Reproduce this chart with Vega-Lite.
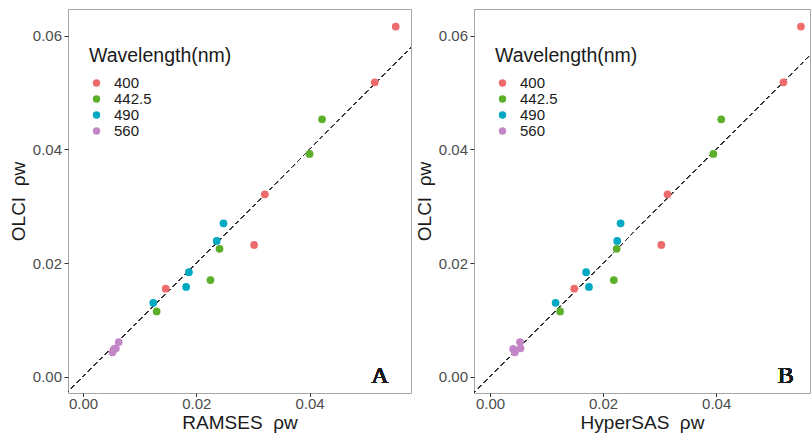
{
  "$schema": "https://vega.github.io/schema/vega-lite/v6.json",
  "padding": {"left": 8, "top": 8, "right": 0, "bottom": 0},
  "background": "white",
  "spacing": 2,
  "data": {"values": [
    {"wavelength": "400", "olci": 0.0616, "ramses": 0.0552, "hypersas": 0.0550},
    {"wavelength": "400", "olci": 0.0518, "ramses": 0.0515, "hypersas": 0.0519},
    {"wavelength": "400", "olci": 0.0321, "ramses": 0.0321, "hypersas": 0.0314},
    {"wavelength": "400", "olci": 0.0232, "ramses": 0.0302, "hypersas": 0.0303},
    {"wavelength": "400", "olci": 0.0155, "ramses": 0.0146, "hypersas": 0.0149},
    {"wavelength": "442.5", "olci": 0.0453, "ramses": 0.0422, "hypersas": 0.0409},
    {"wavelength": "442.5", "olci": 0.0392, "ramses": 0.0400, "hypersas": 0.0395},
    {"wavelength": "442.5", "olci": 0.0225, "ramses": 0.0241, "hypersas": 0.0224},
    {"wavelength": "442.5", "olci": 0.0170, "ramses": 0.0225, "hypersas": 0.0219},
    {"wavelength": "442.5", "olci": 0.0115, "ramses": 0.0130, "hypersas": 0.0124},
    {"wavelength": "490", "olci": 0.0270, "ramses": 0.0248, "hypersas": 0.0231},
    {"wavelength": "490", "olci": 0.0239, "ramses": 0.0236, "hypersas": 0.0225},
    {"wavelength": "490", "olci": 0.0184, "ramses": 0.0187, "hypersas": 0.0170},
    {"wavelength": "490", "olci": 0.0158, "ramses": 0.0182, "hypersas": 0.0175},
    {"wavelength": "490", "olci": 0.0130, "ramses": 0.0124, "hypersas": 0.0116},
    {"wavelength": "560", "olci": 0.0061, "ramses": 0.0063, "hypersas": 0.0053},
    {"wavelength": "560", "olci": 0.0050, "ramses": 0.0058, "hypersas": 0.0054},
    {"wavelength": "560", "olci": 0.0049, "ramses": 0.0055, "hypersas": 0.0041},
    {"wavelength": "560", "olci": 0.0043, "ramses": 0.0052, "hypersas": 0.0044}
  ]},
  "config": {
    "font": "Liberation Sans",
    "view": {"stroke": "#a6a6a6", "strokeWidth": 1},
    "axis": {
      "domain": false,
      "tickSize": 4,
      "tickColor": "#333333",
      "labelColor": "#4d4d4d",
      "labelFontSize": 15,
      "labelPadding": 2.5,
      "titleFontSize": 19,
      "titleFontWeight": "normal",
      "titleColor": "#1a1a1a",
      "gridColor": "#ebebeb"
    },
    "axisX": {"titlePadding": 2, "labelPadding": 0, "tickSize": 3.5},
    "axisY": {"titlePadding": 4},
    "legend": {
      "titleFontSize": 19.5,
      "titleFontWeight": "normal",
      "titleColor": "#1a1a1a",
      "labelFontSize": 15,
      "labelColor": "#1a1a1a",
      "symbolSize": 55,
      "symbolType": "circle",
      "rowPadding": 0,
      "labelOffset": 10,
      "titlePadding": 9
    }
  },
  "hconcat": [
    {
      "width": 343,
      "height": 384,
      "layer": [
        {
          "mark": {"type": "rule", "strokeDash": [4, 4], "color": "#333333", "strokeWidth": 1, "clip": true},
          "encoding": {
            "x": {"datum": -0.01, "type": "quantitative"},
            "y": {"datum": -0.01, "type": "quantitative"},
            "x2": {"datum": 0.08},
            "y2": {"datum": 0.08}
          }
        },
        {
          "mark": {"type": "point", "filled": true, "opacity": 1, "size": 60},
          "encoding": {
            "x": {
              "field": "ramses", "type": "quantitative",
              "scale": {"domain": [-0.00265, 0.0579], "nice": false, "zero": false},
              "axis": {
                "title": "RAMSES\u00a0 ρw",
                "values": [0, 0.01, 0.02, 0.03, 0.04, 0.05],
                "labelExpr": "round(datum.value*100) % 2 == 1 ? '' : format(datum.value, '.2f')",
                "tickOpacity": {"condition": {"test": "round(datum.value*100) % 2 == 1", "value": 0}, "value": 1},
                "gridColor": {"condition": {"test": "round(datum.value*100) % 2 == 1", "value": "#f3f3f3"}, "value": "#ebebeb"}
              }
            },
            "y": {
              "field": "olci", "type": "quantitative",
              "scale": {"domain": [-0.00286, 0.0647], "nice": false, "zero": false},
              "axis": {
                "title": "OLCI\u00a0 ρw",
                "values": [0, 0.01, 0.02, 0.03, 0.04, 0.05, 0.06],
                "labelExpr": "round(datum.value*100) % 2 == 1 ? '' : format(datum.value, '.2f')",
                "tickOpacity": {"condition": {"test": "round(datum.value*100) % 2 == 1", "value": 0}, "value": 1},
                "gridColor": {"condition": {"test": "round(datum.value*100) % 2 == 1", "value": "#f3f3f3"}, "value": "#ebebeb"}
              }
            },
            "color": {
              "field": "wavelength", "type": "nominal",
              "scale": {"domain": ["400", "442.5", "490", "560"], "range": ["#ee6b6b", "#5caf2a", "#00a9c2", "#c387c7"]},
              "legend": {"title": "Wavelength(nm)", "orient": "none", "legendX": 21, "legendY": 38}
            }
          }
        },
        {
          "mark": {"type": "text", "font": "Times New Roman, Liberation Serif, serif", "fontSize": 24, "fontWeight": 300, "color": "#1a1a1a", "baseline": "alphabetic", "align": "center"},
          "encoding": {
            "x": {"datum": 0.0524, "type": "quantitative"},
            "y": {"datum": -0.0011, "type": "quantitative"},
            "text": {"value": "A"}
          }
        }
      ]
    },
    {
      "width": 336,
      "height": 384,
      "layer": [
        {
          "mark": {"type": "rule", "strokeDash": [4, 4], "color": "#333333", "strokeWidth": 1, "clip": true},
          "encoding": {
            "x": {"datum": -0.01, "type": "quantitative"},
            "y": {"datum": -0.01, "type": "quantitative"},
            "x2": {"datum": 0.08},
            "y2": {"datum": 0.08}
          }
        },
        {
          "mark": {"type": "point", "filled": true, "opacity": 1, "size": 60},
          "encoding": {
            "x": {
              "field": "hypersas", "type": "quantitative",
              "scale": {"domain": [-0.00283, 0.0566], "nice": false, "zero": false},
              "axis": {
                "title": "HyperSAS\u00a0 ρw",
                "values": [0, 0.01, 0.02, 0.03, 0.04, 0.05],
                "labelExpr": "round(datum.value*100) % 2 == 1 ? '' : format(datum.value, '.2f')",
                "tickOpacity": {"condition": {"test": "round(datum.value*100) % 2 == 1", "value": 0}, "value": 1},
                "gridColor": {"condition": {"test": "round(datum.value*100) % 2 == 1", "value": "#f3f3f3"}, "value": "#ebebeb"}
              }
            },
            "y": {
              "field": "olci", "type": "quantitative",
              "scale": {"domain": [-0.00286, 0.0647], "nice": false, "zero": false},
              "axis": {
                "title": "OLCI\u00a0 ρw",
                "values": [0, 0.01, 0.02, 0.03, 0.04, 0.05, 0.06],
                "labelExpr": "round(datum.value*100) % 2 == 1 ? '' : format(datum.value, '.2f')",
                "tickOpacity": {"condition": {"test": "round(datum.value*100) % 2 == 1", "value": 0}, "value": 1},
                "gridColor": {"condition": {"test": "round(datum.value*100) % 2 == 1", "value": "#f3f3f3"}, "value": "#ebebeb"}
              }
            },
            "color": {
              "field": "wavelength", "type": "nominal",
              "scale": {"domain": ["400", "442.5", "490", "560"], "range": ["#ee6b6b", "#5caf2a", "#00a9c2", "#c387c7"]},
              "legend": {"title": "Wavelength(nm)", "orient": "none", "legendX": 21, "legendY": 38}
            }
          }
        },
        {
          "mark": {"type": "text", "font": "Times New Roman, Liberation Serif, serif", "fontSize": 24, "fontWeight": 300, "color": "#1a1a1a", "baseline": "alphabetic", "align": "center"},
          "encoding": {
            "x": {"datum": 0.0523, "type": "quantitative"},
            "y": {"datum": -0.0011, "type": "quantitative"},
            "text": {"value": "B"}
          }
        }
      ]
    }
  ],
  "resolve": {"scale": {"x": "independent", "color": "independent"}, "legend": {"color": "independent"}}
}
